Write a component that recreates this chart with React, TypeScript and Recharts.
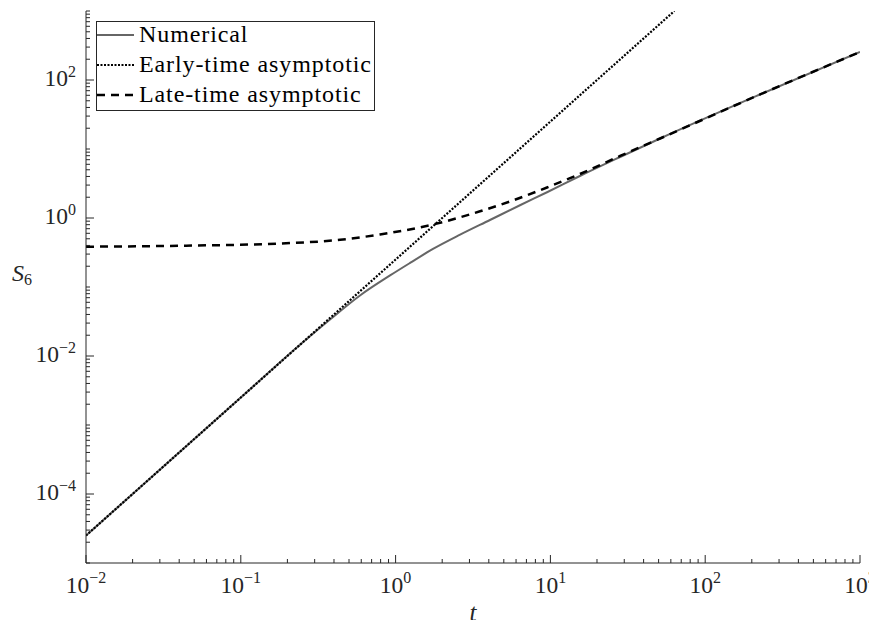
import { LineChart, Line, XAxis, YAxis } from 'recharts'

// S6 versus t
const numT = [0.01, 0.1, 0.2412, 0.377, 0.589, 0.921, 1.239, 1.744, 2.61, 4.07, 6.36, 9.51, 15.5, 28.2, 51.1, 226, 1000]
const numS = [2.5e-5, 2.5e-3, 0.01455, 0.0338, 0.0754, 0.147, 0.223, 0.356, 0.573, 0.935, 1.53, 2.36, 4.06, 7.66, 14.2, 61.7, 255]

const earlyT = [0.01, 0.1, 1, 10, 63.2]
const earlyS = [2.5e-5, 2.5e-3, 0.25, 25, 1000]

const lateT = [0.01, 0.0443, 0.196, 0.438, 0.793, 1.744, 3.51, 5.73, 9.51, 15.5, 28.2, 51.1, 226, 1000]
const lateS = [0.384, 0.397, 0.43, 0.483, 0.577, 0.805, 1.25, 1.8, 2.77, 4.34, 7.93, 14.2, 61.7, 255]

// decades carrying a labelled tick
const xDecades = [-2, -1, 0, 1, 2, 3]
const yDecades = [-4, -2, 0, 2]

const legendNames = ['Numerical', 'Early-time asymptotic', 'Late-time asymptotic']

const INK = '#262626'
const SERIF = 'Liberation Serif'
const DOTS = '2 1.5'

const toRows = (ts: number[], ss: number[]) => ts.map((t, i) => ({ t, S: ss[i] }))
const numerical = toRows(numT, numS)
const early = toRows(earlyT, earlyS)
const late = toRows(lateT, lateS)

// every 1..9 x 10^n between the domain ends
function logTicks(lo: number, hi: number) {
  const out: number[] = []
  for (let n = lo; n < hi; n++) {
    for (let k = 1; k <= 9; k++) out.push(k * Math.pow(10, n))
  }
  out.push(Math.pow(10, hi))
  return out
}
const xTicks = logTicks(-2, 3)
const yTicks = logTicks(-5, 3)

type Side = 'bottom' | 'top' | 'left' | 'right'

function LogTick(props: any) {
  const { x, y, payload, side, labelled } = props as {
    x: number
    y: number
    payload: { value: number }
    side: Side
    labelled: number[]
  }
  const lg = Math.log10(payload.value)
  const n = Math.round(lg)
  const major = Math.abs(lg - n) < 1e-6 && labelled.includes(n)
  const len = major ? 8 : 4
  const exp = n < 0 ? `\u2212${-n}` : `${n}`

  let tick
  if (side === 'bottom') tick = <line x1={x} y1={y} x2={x} y2={y - len} />
  else if (side === 'top') tick = <line x1={x} y1={y} x2={x} y2={y + len} />
  else if (side === 'left') tick = <line x1={x} y1={y} x2={x + len} y2={y} />
  else tick = <line x1={x} y1={y} x2={x - len} y2={y} />

  return (
    <g>
      <g stroke={INK} strokeWidth={1}>{tick}</g>
      {major && side === 'bottom' && (
        <text x={x} y={y + 30} textAnchor="middle" fill={INK} fontFamily={SERIF} fontSize={23.5}>
          <tspan>10</tspan>
          <tspan dy={-10} fontSize={16}>{exp}</tspan>
        </text>
      )}
      {major && side === 'left' && (
        <text x={x - 10} y={y + 6} textAnchor="end" fill={INK} fontFamily={SERIF} fontSize={23.5}>
          <tspan>10</tspan>
          <tspan dy={-9} fontSize={16}>{exp}</tspan>
        </text>
      )}
    </g>
  )
}

function Legend() {
  const rows = [
    { dash: undefined, color: '#666666', width: 2 },
    { dash: DOTS, color: '#000000', width: 2.2 },
    { dash: '8 6', color: '#000000', width: 2.5 },
  ]
  return (
    <div style={{ position: 'absolute', left: 88, top: 13 }}>
      <svg width={280} height={91}>
        <rect x={0.5} y={0.5} width={278} height={89} fill="#ffffff" stroke={INK} strokeWidth={1} />
        {rows.map((r, i) => (
          <g key={legendNames[i]}>
            <line
              x1={1}
              x2={38}
              y1={14 + i * 30}
              y2={14 + i * 30}
              stroke={r.color}
              strokeWidth={r.width}
              strokeDasharray={r.dash}
            />
            <text
              x={43}
              y={21 + i * 30}
              fill="#000"
              fontFamily={SERIF}
              fontSize={24}
              letterSpacing={0.9}
            >
              {legendNames[i]}
            </text>
          </g>
        ))}
      </svg>
    </div>
  )
}

export default function App() {
  // negative bottom margin keeps the page from growing a scrollbar
  return (
    <div style={{ position: 'relative', width: 869, height: 620, marginBottom: -8, background: '#fff' }}>
      <LineChart width={869} height={620} margin={{ top: 3, right: 17, bottom: 0, left: 0 }}>
        <XAxis
          dataKey="t"
          type="number"
          scale="log"
          domain={[0.01, 1000]}
          allowDataOverflow
          ticks={xTicks}
          interval={0}
          height={65}
          stroke={INK}
          tickLine={false}
          tickSize={0}
          tickMargin={0}
          tick={(p: any) => <LogTick {...p} side="bottom" labelled={xDecades} />}
          label={({ viewBox }: any) => (
            <text
              x={viewBox.x + viewBox.width / 2}
              y={viewBox.y + 58}
              textAnchor="middle"
              fontFamily={SERIF}
              fontStyle="italic"
              fontSize={25}
              fill={INK}
            >
              t
            </text>
          )}
        />
        <XAxis
          xAxisId="top"
          orientation="top"
          dataKey="t"
          type="number"
          scale="log"
          domain={[0.01, 1000]}
          allowDataOverflow
          ticks={xTicks}
          interval={0}
          height={0}
          stroke={INK}
          tickLine={false}
          tickSize={0}
          tickMargin={0}
          tick={(p: any) => <LogTick {...p} side="top" labelled={xDecades} />}
        />
        <YAxis
          dataKey="S"
          type="number"
          scale="log"
          domain={[1e-5, 1000]}
          allowDataOverflow
          ticks={yTicks}
          interval={0}
          width={78}
          stroke={INK}
          tickLine={false}
          tickSize={0}
          tickMargin={0}
          tick={(p: any) => <LogTick {...p} side="left" labelled={yDecades} />}
          label={({ viewBox }: any) => (
            <text
              x={viewBox.x + 4}
              y={viewBox.y + viewBox.height / 2 - 6}
              fontFamily={SERIF}
              fontSize={24}
              fill={INK}
            >
              <tspan fontStyle="italic">S</tspan>
              <tspan dy={4} fontSize={16}>6</tspan>
            </text>
          )}
        />
        <YAxis
          yAxisId="right"
          orientation="right"
          type="number"
          scale="log"
          domain={[1e-5, 1000]}
          allowDataOverflow
          ticks={yTicks}
          interval={0}
          width={0}
          stroke={INK}
          tickLine={false}
          tickSize={0}
          tickMargin={0}
          tick={(p: any) => <LogTick {...p} side="right" labelled={yDecades} />}
        />
        <Line
          data={numerical}
          dataKey="S"
          type="monotone"
          stroke="#666666"
          strokeWidth={2}
          dot={false}
          isAnimationActive={false}
        />
        <Line
          data={early}
          dataKey="S"
          type="linear"
          stroke="#000000"
          strokeWidth={2.2}
          strokeDasharray={DOTS}
          dot={false}
          isAnimationActive={false}
        />
        <Line
          data={late}
          dataKey="S"
          type="monotone"
          stroke="#000000"
          strokeWidth={2.5}
          strokeDasharray="8 6"
          dot={false}
          isAnimationActive={false}
        />
      </LineChart>
      <Legend />
    </div>
  )
}
